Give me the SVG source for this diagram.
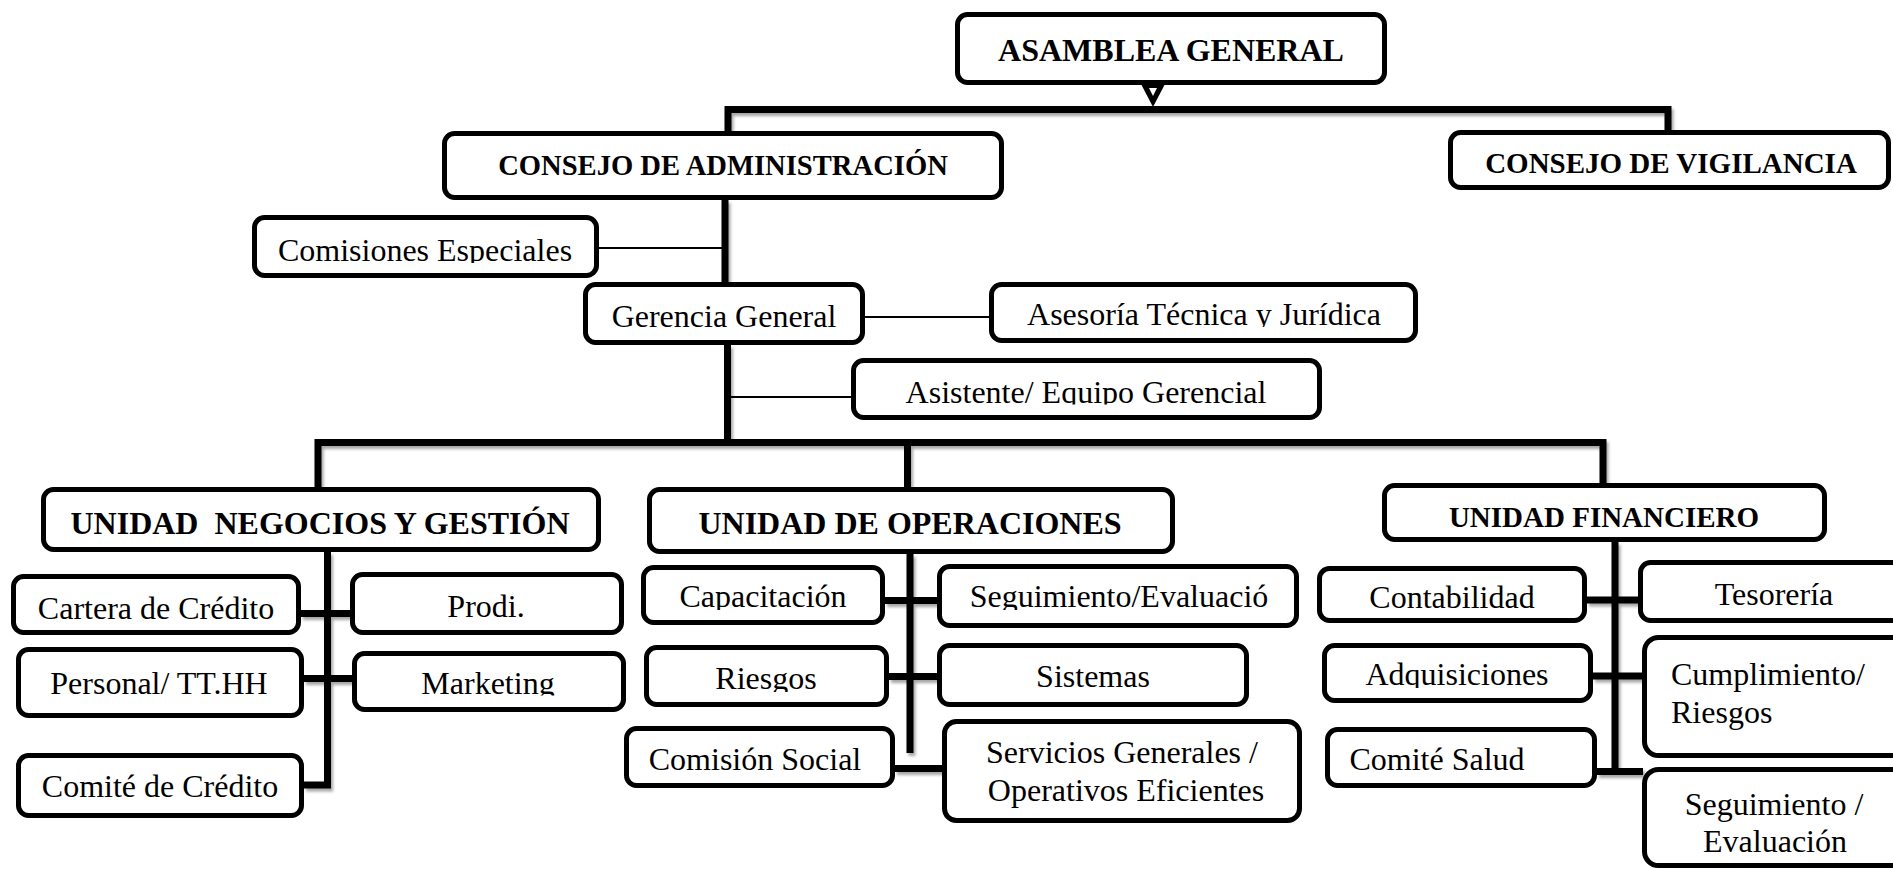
<svg xmlns="http://www.w3.org/2000/svg" width="1893" height="869" viewBox="0 0 1893 869">
  <style>
    .box { fill: #fff; stroke: #000; stroke-width: 5; }
    .t { font-family: "Liberation Serif", "Times New Roman", serif; font-size: 32px; fill: #000; text-anchor: middle; }
    .b { font-weight: bold; white-space: pre; }
    .thick { stroke: #000; stroke-width: 7; fill: none; stroke-linecap: butt; }
    .thin { stroke: #000; stroke-width: 2; fill: none; }
  </style>
  <defs>
    <filter id="shadow" x="-5%" y="-5%" width="110%" height="120%">
      <feDropShadow dx="2" dy="3" stdDeviation="1.5" flood-color="#000" flood-opacity="0.35"/>
    </filter>
    <clipPath id="cut263" clipPathUnits="userSpaceOnUse"><rect x="0" y="0" width="1893" height="263"/></clipPath>
    <clipPath id="cut327" clipPathUnits="userSpaceOnUse"><rect x="0" y="0" width="1893" height="327"/></clipPath>
    <clipPath id="cut404" clipPathUnits="userSpaceOnUse"><rect x="0" y="0" width="1893" height="404.5"/></clipPath>
    <clipPath id="cut610" clipPathUnits="userSpaceOnUse"><rect x="0" y="0" width="1893" height="610"/></clipPath>
    <clipPath id="cut692" clipPathUnits="userSpaceOnUse"><rect x="0" y="0" width="1893" height="692"/></clipPath>
    <clipPath id="cut695" clipPathUnits="userSpaceOnUse"><rect x="0" y="0" width="1893" height="695.5"/></clipPath>
    <clipPath id="cut688" clipPathUnits="userSpaceOnUse"><rect x="0" y="0" width="1893" height="688"/></clipPath>
  </defs>

  <rect width="1893" height="869" fill="#fff"/>

  <!-- connectors -->
  <g id="connectors">
    <g filter="url(#shadow)">
      <!-- top level -->
      <path class="thick" d="M728,131 V109.5 H1668 V130"/>
      <line class="thick" x1="725" y1="200" x2="725" y2="283"/>
      <line class="thick" x1="727.5" y1="345" x2="727.5" y2="442"/>
      <!-- units bar -->
      <path class="thick" d="M318,488 V442.5 H1603 V484"/>
      <line class="thick" x1="907.5" y1="442" x2="907.5" y2="488"/>
      <!-- negocios -->
      <path class="thick" d="M327.5,552 V785 H304"/>
      <line class="thick" x1="301" y1="613.5" x2="351" y2="613.5"/>
      <line class="thick" x1="304" y1="678.5" x2="353" y2="678.5"/>
      <!-- operaciones -->
      <line class="thick" x1="910" y1="554" x2="910" y2="753"/>
      <line class="thick" x1="885" y1="600.5" x2="938" y2="600.5"/>
      <line class="thick" x1="889" y1="676.5" x2="938" y2="676.5"/>
      <line class="thick" x1="895" y1="768.5" x2="943" y2="768.5"/>
      <!-- financiero -->
      <line class="thick" x1="1615" y1="542" x2="1615" y2="775"/>
      <line class="thick" x1="1587" y1="600" x2="1639" y2="600"/>
      <line class="thick" x1="1593" y1="676" x2="1643" y2="676"/>
      <line class="thick" x1="1597" y1="771.5" x2="1643" y2="771.5"/>
    </g>
    <!-- side links -->
    <line class="thin" x1="599" y1="248" x2="724" y2="248"/>
    <line class="thin" x1="865" y1="317" x2="990" y2="317"/>
    <line class="thin" x1="731" y1="397" x2="852" y2="397"/>
    <!-- arrowhead under the assembly box -->
    <polygon points="1141,84 1165,84 1153,107" fill="#000"/>
    <polygon points="1149,88 1157,88 1153,96" fill="#fff"/>
  </g>

  <g id="asamblea">
    <rect class="box" x="957.5" y="14.5" width="427" height="68" rx="10"/>
    <text class="t b" x="1171" y="61">ASAMBLEA GENERAL</text>
  </g>
  <g id="consejo-admin">
    <rect class="box" x="444.5" y="133.5" width="557" height="64" rx="10"/>
    <text class="t b" x="723" y="175" style="font-size:28.6px">CONSEJO DE ADMINISTRACIÓN</text>
  </g>
  <g id="consejo-vigilancia">
    <rect class="box" x="1450.5" y="132.5" width="438" height="55" rx="10"/>
    <text class="t b" x="1671" y="173" style="font-size:29px">CONSEJO DE VIGILANCIA</text>
  </g>
  <g id="comisiones">
    <rect class="box" x="254.5" y="217.5" width="342" height="58" rx="10"/>
    <text class="t" x="425" y="261" clip-path="url(#cut263)">Comisiones Especiales</text>
  </g>
  <g id="gerencia">
    <rect class="box" x="585.5" y="284.5" width="277" height="58" rx="10"/>
    <text class="t" x="724" y="327">Gerencia General</text>
  </g>
  <g id="asesoria">
    <rect class="box" x="991.5" y="284.5" width="424" height="56" rx="10"/>
    <text class="t" x="1204" y="325" clip-path="url(#cut327)">Asesoría Técnica y Jurídica</text>
  </g>
  <g id="asistente">
    <rect class="box" x="853.5" y="360.5" width="466" height="57" rx="10"/>
    <text class="t" x="1086" y="403" clip-path="url(#cut404)">Asistente/ Equipo Gerencial</text>
  </g>

  <g id="unidad-negocios">
    <rect class="box" x="43.5" y="489.5" width="555" height="60" rx="10"/>
    <text class="t b" x="320" y="534">UNIDAD  NEGOCIOS Y GESTIÓN</text>
  </g>
  <g id="unidad-operaciones">
    <rect class="box" x="649.5" y="489.5" width="523" height="62" rx="10"/>
    <text class="t b" x="910" y="534">UNIDAD DE OPERACIONES</text>
  </g>
  <g id="unidad-financiero">
    <rect class="box" x="1384.5" y="485.5" width="440" height="54" rx="10"/>
    <text class="t b" x="1604" y="527" style="font-size:29px">UNIDAD FINANCIERO</text>
  </g>

  <g id="cartera">
    <rect class="box" x="13.5" y="576.5" width="285" height="56" rx="10"/>
    <text class="t" x="156" y="619">Cartera de Crédito</text>
  </g>
  <g id="prodi">
    <rect class="box" x="352.5" y="574.5" width="269" height="58" rx="10"/>
    <text class="t" x="486" y="617">Prodi.</text>
  </g>
  <g id="personal">
    <rect class="box" x="18.5" y="649.5" width="283" height="66" rx="10"/>
    <text class="t" x="159" y="694">Personal/ TT.HH</text>
  </g>
  <g id="marketing">
    <rect class="box" x="354.5" y="653.5" width="269" height="56" rx="10"/>
    <text class="t" x="488" y="694" clip-path="url(#cut695)">Marketing</text>
  </g>
  <g id="comite-credito">
    <rect class="box" x="18.5" y="755.5" width="283" height="60" rx="10"/>
    <text class="t" x="160" y="797">Comité de Crédito</text>
  </g>

  <g id="capacitacion">
    <rect class="box" x="643.5" y="567.5" width="239" height="55" rx="10"/>
    <text class="t" x="763" y="607" clip-path="url(#cut610)">Capacitación</text>
  </g>
  <g id="seguimiento-ops">
    <rect class="box" x="939.5" y="566.5" width="357" height="59" rx="10"/>
    <text class="t" x="1119" y="607" clip-path="url(#cut610)">Seguimiento/Evaluació</text>
  </g>
  <g id="riesgos">
    <rect class="box" x="646.5" y="647.5" width="240" height="57" rx="10"/>
    <text class="t" x="766" y="689" clip-path="url(#cut692)">Riesgos</text>
  </g>
  <g id="sistemas">
    <rect class="box" x="939.5" y="645.5" width="307" height="59" rx="10"/>
    <text class="t" x="1093" y="687">Sistemas</text>
  </g>
  <g id="comision-social">
    <rect class="box" x="626.5" y="728.5" width="266" height="57" rx="10"/>
    <text class="t" x="755" y="770">Comisión Social</text>
  </g>
  <g id="servicios">
    <rect class="box" x="944.5" y="721.5" width="355" height="99" rx="12"/>
    <text class="t" x="1122" y="763">Servicios Generales /</text>
    <text class="t" x="1126" y="801">Operativos Eficientes</text>
  </g>

  <g id="contabilidad">
    <rect class="box" x="1319.5" y="568.5" width="265" height="52" rx="10"/>
    <text class="t" x="1452" y="608">Contabilidad</text>
  </g>
  <g id="tesoreria">
    <rect class="box" x="1640.5" y="562.5" width="300" height="58" rx="10"/>
    <text class="t" x="1774" y="605">Tesorería</text>
  </g>
  <g id="adquisiciones">
    <rect class="box" x="1324.5" y="645.5" width="266" height="55" rx="10"/>
    <text class="t" x="1457" y="685" clip-path="url(#cut688)">Adquisiciones</text>
  </g>
  <g id="cumplimiento">
    <rect class="box" x="1644.5" y="637.5" width="300" height="118" rx="14"/>
    <text class="t" x="1671" y="685" style="text-anchor:start">Cumplimiento/</text>
    <text class="t" x="1671" y="723" style="text-anchor:start">Riesgos</text>
  </g>
  <g id="comite-salud">
    <rect class="box" x="1327.5" y="729.5" width="267" height="56" rx="10"/>
    <text class="t" x="1437" y="770">Comité Salud</text>
  </g>
  <g id="seguimiento-fin">
    <rect class="box" x="1644.5" y="769.5" width="300" height="96" rx="14"/>
    <text class="t" x="1774" y="815">Seguimiento /</text>
    <text class="t" x="1775" y="852">Evaluación</text>
  </g>
</svg>
